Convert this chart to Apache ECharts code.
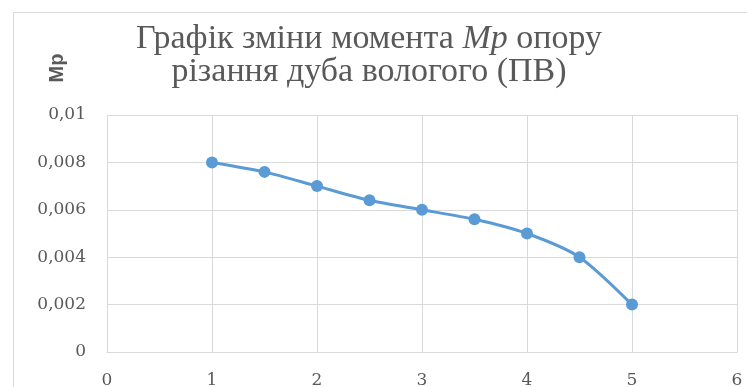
<!DOCTYPE html>
<html>
<head>
<meta charset="utf-8">
<script src="https://cdn.jsdelivr.net/npm/echarts@6/dist/echarts.min.js"></script>
<style>
  html, body { margin: 0; padding: 0; background: #fff; }
  #chart { width: 747px; height: 387px; }
</style>
</head>
<body>
<div id="chart"></div>
<script>
// Feed speed values and cutting-resistance moment Mp
const xValues = [1, 1.5, 2, 2.5, 3, 3.5, 4, 4.5, 5];
const mpValues = [0.008, 0.0076, 0.007, 0.0064, 0.006, 0.0056, 0.005, 0.004, 0.002];
const yTicks = [0, 0.002, 0.004, 0.006, 0.008, 0.01];
const xTicks = [0, 1, 2, 3, 4, 5, 6];

const points = xValues.map((x, i) => [x, mpValues[i]]);
const labelColor = '#595959';
const serif = '"Liberation Serif", "DejaVu Serif", serif';
const tickFont = '"DejaVu Serif", serif';

const chart = echarts.init(document.getElementById('chart'));
chart.setOption({
  animation: false,
  backgroundColor: '#fff',
  title: {
    text: 'Графік зміни момента {i|Mp} опору\nрізання дуба вологого (ПВ)',
    left: 364,
    textAlign: 'center',
    top: 18,
    textStyle: {
      fontFamily: serif,
      fontSize: 34,
      fontWeight: 'normal',
      color: labelColor,
      lineHeight: 33,
      rich: {
        i: { fontFamily: serif, fontSize: 34, fontStyle: 'italic', color: labelColor, lineHeight: 33 }
      }
    }
  },
  graphic: [
    {
      type: 'rect',
      shape: { x: 13.5, y: 12.5, width: 760, height: 400 },
      style: { fill: 'none', stroke: '#d9d9d9', lineWidth: 1 },
      silent: true
    },
    {
      type: 'text',
      x: 57,
      y: 68,
      rotation: Math.PI / 2,
      style: {
        text: 'Mp',
        font: 'bold 20px "Liberation Sans", Arial, sans-serif',
        fill: labelColor,
        textAlign: 'center',
        textVerticalAlign: 'middle'
      }
    }
  ],
  grid: { left: 107, right: 10, top: 115, bottom: 35, outerBoundsMode: 'none', containLabel: false },
  xAxis: {
    type: 'value',
    min: xTicks[0],
    max: xTicks[xTicks.length - 1],
    interval: 1,
    axisLine: { show: true, lineStyle: { color: '#d9d9d9', width: 1 } },
    axisTick: { show: false },
    axisLabel: { color: labelColor, fontFamily: tickFont, fontSize: 17, margin: 20 },
    splitLine: { show: true, lineStyle: { color: '#d9d9d9', width: 1 } }
  },
  yAxis: {
    type: 'value',
    min: yTicks[0],
    max: yTicks[yTicks.length - 1],
    interval: 0.002,
    axisLine: { show: false },
    axisTick: { show: false },
    axisLabel: {
      color: labelColor,
      fontFamily: tickFont,
      fontSize: 17,
      margin: 21,
      formatter: v => String(+v.toFixed(3)).replace('.', ',')
    },
    splitLine: { show: true, lineStyle: { color: '#d9d9d9', width: 1 } }
  },
  series: [{
    type: 'line',
    data: points,
    smooth: 0.25,
    symbol: 'circle',
    symbolSize: 12,
    lineStyle: { color: '#5B9BD5', width: 3 },
    itemStyle: { color: '#5B9BD5' }
  }]
});
</script>
</body>
</html>
